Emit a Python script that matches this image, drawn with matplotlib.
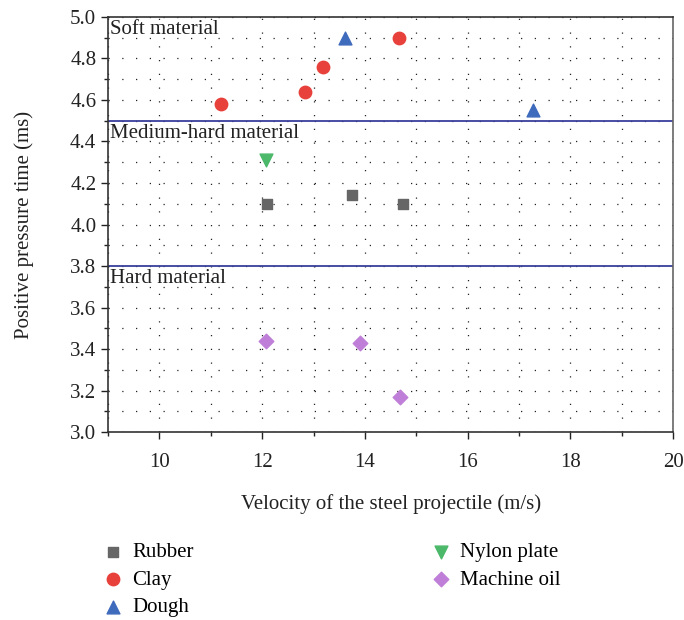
import matplotlib
matplotlib.use("Agg")
import matplotlib.pyplot as plt
from matplotlib.ticker import MultipleLocator

plt.rcParams['font.family'] = ['Liberation Serif', 'DejaVu Serif']

# Measured data: velocity (m/s) vs positive pressure time (ms)
rubber_v = [12.1, 13.75, 14.74]
rubber_t = [4.10, 4.14, 4.10]
clay_v = [11.19, 12.83, 13.19, 14.67]
clay_t = [4.58, 4.64, 4.76, 4.90]
dough_v = [13.62, 17.28]
dough_t = [4.90, 4.55]
nylon_v = [12.08]
nylon_t = [4.31]
oil_v = [12.07, 13.9, 14.68]
oil_t = [3.44, 3.43, 3.17]

boundaries = [4.5, 3.8]
region_labels = ["Soft material", "Medium-hard material", "Hard material"]
region_label_y = [4.985, 4.485, 3.785]

fig = plt.figure(figsize=(6.84, 6.2), dpi=100)
ax = fig.add_axes([0.158, 0.303, 0.826, 0.6697])

ax.set_xlim(9, 20)
ax.set_ylim(3.0, 5.0)
ax.xaxis.set_major_locator(MultipleLocator(2))
ax.xaxis.set_minor_locator(MultipleLocator(1))
ax.yaxis.set_major_locator(MultipleLocator(0.2))
ax.yaxis.set_minor_locator(MultipleLocator(0.1))
ax.grid(which='both', color='#222222', linestyle=(0, (1, 10)), linewidth=0.9)
ax.set_axisbelow(True)

for b in boundaries:
    ax.axhline(b, color='#3a3f9c', linewidth=1.3, zorder=2)

for txt, y in zip(region_labels, region_label_y):
    ax.text(9.03, y, txt, fontsize=15, va='top', ha='left', color='#222222',
            zorder=3)

ax.scatter(rubber_v, rubber_t, marker='s', s=55, color='#666666', label='Rubber', zorder=4)
ax.scatter(clay_v, clay_t, marker='o', s=80, color='#e8413c', label='Clay', zorder=4)
ax.scatter(dough_v, dough_t, marker='^', s=85, color='#3f6bbd', label='Dough', zorder=4)
ax.scatter(nylon_v, nylon_t, marker='v', s=85, color='#4cb86a', label='Nylon plate', zorder=4)
ax.scatter(oil_v, oil_t, marker='D', s=55, color='#bf7fd8', label='Machine oil', zorder=4)

ax.tick_params(which='major', direction='out', length=5, width=1, labelsize=15,
               colors='#222222')
ax.tick_params(axis='x', which='major', pad=10)
ax.tick_params(which='minor', direction='out', length=3, width=1, colors='#222222')
for side in ['left', 'bottom', 'top']:
    ax.spines[side].set_color('#333333')
    ax.spines[side].set_linewidth(1.2)
ax.spines['right'].set_color('#666666')
ax.spines['right'].set_linewidth(1.2)

ax.set_xlabel("Velocity of the steel projectile (m/s)", fontsize=15, labelpad=16,
              color='#222222')
ax.set_ylabel("Positive pressure time (ms)", fontsize=15, labelpad=26, color='#222222')

fig.legend(loc='upper left', bbox_to_anchor=(0.135, 0.138), ncol=2, frameon=False,
           fontsize=15, columnspacing=11.3, handletextpad=0.3, labelspacing=0.38,
           borderaxespad=0, handlelength=1.2)

fig.savefig("out.png", dpi=100)
